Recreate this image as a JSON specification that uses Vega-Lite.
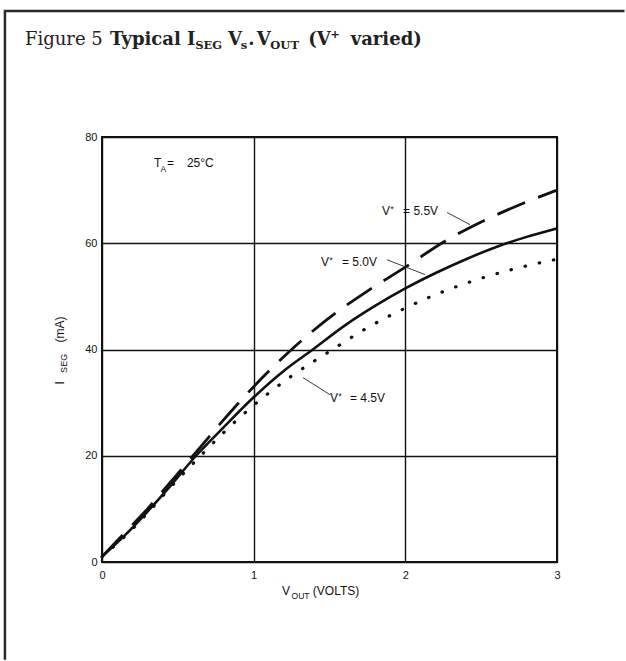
{
  "$schema": "https://vega.github.io/schema/vega-lite/v6.json",
  "width": 455,
  "height": 425,
  "autosize": {"type": "none"},
  "padding": {"left": 102, "top": 137, "right": 69, "bottom": 99},
  "background": "white",
  "config": {
    "view": {"stroke": "#111", "strokeWidth": 2},
    "axis": {"labelFont": "Liberation Sans", "labelFontSize": 11, "labelColor": "#111", "tickSize": 0, "domain": false, "grid": true, "gridColor": "#111", "gridWidth": 1.4, "gridOpacity": 1}
  },
  "datasets": {
    "curves": [
      {"vout": 0, "iseg": 1, "series": "5.5V"},
      {"vout": 0.15, "iseg": 5.5, "series": "5.5V"},
      {"vout": 0.3, "iseg": 10, "series": "5.5V"},
      {"vout": 0.45, "iseg": 15, "series": "5.5V"},
      {"vout": 0.6, "iseg": 20, "series": "5.5V"},
      {"vout": 0.8, "iseg": 26.7, "series": "5.5V"},
      {"vout": 1.0, "iseg": 33, "series": "5.5V"},
      {"vout": 1.25, "iseg": 40, "series": "5.5V"},
      {"vout": 1.5, "iseg": 46, "series": "5.5V"},
      {"vout": 1.75, "iseg": 51, "series": "5.5V"},
      {"vout": 2.0, "iseg": 55.5, "series": "5.5V"},
      {"vout": 2.25, "iseg": 60.2, "series": "5.5V"},
      {"vout": 2.5, "iseg": 64, "series": "5.5V"},
      {"vout": 2.75, "iseg": 67.2, "series": "5.5V"},
      {"vout": 3.0, "iseg": 70, "series": "5.5V"},
      {"vout": 0, "iseg": 1, "series": "5.0V"},
      {"vout": 0.15, "iseg": 5, "series": "5.0V"},
      {"vout": 0.3, "iseg": 9.5, "series": "5.0V"},
      {"vout": 0.45, "iseg": 14.3, "series": "5.0V"},
      {"vout": 0.62, "iseg": 20, "series": "5.0V"},
      {"vout": 0.8, "iseg": 25.3, "series": "5.0V"},
      {"vout": 1.0, "iseg": 31, "series": "5.0V"},
      {"vout": 1.2, "iseg": 36, "series": "5.0V"},
      {"vout": 1.39, "iseg": 40, "series": "5.0V"},
      {"vout": 1.6, "iseg": 44.5, "series": "5.0V"},
      {"vout": 1.8, "iseg": 48.2, "series": "5.0V"},
      {"vout": 2.0, "iseg": 51.5, "series": "5.0V"},
      {"vout": 2.2, "iseg": 54.4, "series": "5.0V"},
      {"vout": 2.4, "iseg": 57.0, "series": "5.0V"},
      {"vout": 2.6, "iseg": 59.3, "series": "5.0V"},
      {"vout": 2.8, "iseg": 61.2, "series": "5.0V"},
      {"vout": 3.0, "iseg": 62.8, "series": "5.0V"},
      {"vout": 0, "iseg": 1, "series": "4.5V"},
      {"vout": 0.15, "iseg": 4.8, "series": "4.5V"},
      {"vout": 0.3, "iseg": 9.2, "series": "4.5V"},
      {"vout": 0.45, "iseg": 14, "series": "4.5V"},
      {"vout": 0.65, "iseg": 20, "series": "4.5V"},
      {"vout": 0.8, "iseg": 24.3, "series": "4.5V"},
      {"vout": 1.0, "iseg": 29.5, "series": "4.5V"},
      {"vout": 1.25, "iseg": 35, "series": "4.5V"},
      {"vout": 1.52, "iseg": 40, "series": "4.5V"},
      {"vout": 1.75, "iseg": 44.1, "series": "4.5V"},
      {"vout": 2.0, "iseg": 47.8, "series": "4.5V"},
      {"vout": 2.25, "iseg": 50.9, "series": "4.5V"},
      {"vout": 2.5, "iseg": 53.4, "series": "4.5V"},
      {"vout": 2.75, "iseg": 55.4, "series": "4.5V"},
      {"vout": 3.0, "iseg": 57, "series": "4.5V"}
    ],
    "leaders": [
      {"x": 2.275, "y": 65.8, "id": "5.5V"},
      {"x": 2.426, "y": 63.5, "id": "5.5V"},
      {"x": 1.879, "y": 56.9, "id": "5.0V"},
      {"x": 2.13, "y": 54.1, "id": "5.0V"},
      {"x": 1.325, "y": 34.7, "id": "4.5V"},
      {"x": 1.503, "y": 31.5, "id": "4.5V"}
    ],
    "frame": [
      {"x": -0.64, "y": -18.4, "order": 1},
      {"x": -0.64, "y": 103.7, "order": 2},
      {"x": 3.445, "y": 103.7, "order": 3}
    ]
  },
  "layer": [
    {
      "data": {"name": "curves"},
      "transform": [{"filter": "datum.series === '5.0V'"}],
      "mark": {"type": "line", "stroke": "#111", "strokeWidth": 2.6, "interpolate": "monotone"},
      "encoding": {
        "x": {"field": "vout", "type": "quantitative", "scale": {"domain": [0, 3], "nice": false}, "axis": {"title": null, "values": [0, 1, 2, 3], "format": "d", "labelPadding": 7, "labelFlush": false}},
        "y": {"field": "iseg", "type": "quantitative", "scale": {"domain": [0, 80], "nice": false}, "axis": {"title": null, "values": [0, 20, 40, 60, 80], "format": "d", "labelPadding": 5}}
      }
    },
    {
      "data": {"name": "curves"},
      "transform": [{"filter": "datum.series === '5.5V'"}],
      "mark": {"type": "line", "stroke": "#111", "strokeWidth": 2.8, "strokeDash": [30, 14], "interpolate": "monotone"},
      "encoding": {
        "x": {"field": "vout", "type": "quantitative"},
        "y": {"field": "iseg", "type": "quantitative"}
      }
    },
    {
      "data": {"name": "curves"},
      "transform": [{"filter": "datum.series === '4.5V'"}],
      "mark": {"type": "line", "stroke": "#111", "strokeWidth": 3.2, "strokeDash": [0.5, 14], "strokeCap": "round", "interpolate": "monotone"},
      "encoding": {
        "x": {"field": "vout", "type": "quantitative"},
        "y": {"field": "iseg", "type": "quantitative"}
      }
    },
    {
      "data": {"name": "frame"},
      "mark": {"type": "line", "stroke": "#2a2a2a", "strokeWidth": 2.5},
      "encoding": {
        "x": {"field": "x", "type": "quantitative"},
        "y": {"field": "y", "type": "quantitative"},
        "order": {"field": "order"}
      }
    },
    {
      "data": {"name": "leaders"},
      "mark": {"type": "line", "stroke": "#222", "strokeWidth": 0.9},
      "encoding": {
        "x": {"field": "x", "type": "quantitative"},
        "y": {"field": "y", "type": "quantitative"},
        "detail": {"field": "id"}
      }
    },
    {
      "data": {"values": [
        {"t": "V⁺", "x": 1.846, "y": 65.4},
        {"t": "= 5.5V", "x": 1.985, "y": 65.4},
        {"t": "V⁺", "x": 1.444, "y": 55.8},
        {"t": "= 5.0V", "x": 1.582, "y": 55.8},
        {"t": "V⁺", "x": 1.503, "y": 30.2},
        {"t": "= 4.5V", "x": 1.635, "y": 30.2},
        {"t": "T", "x": 0.343, "y": 74.3},
        {"t": "=", "x": 0.429, "y": 74.3},
        {"t": "25°C", "x": 0.56, "y": 74.3},
        {"t": "V", "x": 1.187, "y": -6.3},
        {"t": "(VOLTS)", "x": 1.39, "y": -6.3}
      ]},
      "mark": {"type": "text", "font": "Liberation Sans", "fontSize": 12, "align": "left", "baseline": "alphabetic", "color": "#111"},
      "encoding": {
        "x": {"field": "x", "type": "quantitative"},
        "y": {"field": "y", "type": "quantitative"},
        "text": {"field": "t"}
      }
    },
    {
      "data": {"values": [
        {"t": "A", "x": 0.385, "y": 73.4},
        {"t": "OUT", "x": 1.25, "y": -6.9}
      ]},
      "mark": {"type": "text", "font": "Liberation Sans", "fontSize": 8.5, "align": "left", "baseline": "alphabetic", "color": "#111"},
      "encoding": {
        "x": {"field": "x", "type": "quantitative"},
        "y": {"field": "y", "type": "quantitative"},
        "text": {"field": "t"}
      }
    },
    {
      "data": {"values": [
        {"t": "I", "x": -0.25, "y": 33.4},
        {"t": "(mA)", "x": -0.25, "y": 41.3}
      ]},
      "mark": {"type": "text", "font": "Liberation Sans", "fontSize": 12, "align": "left", "baseline": "alphabetic", "angle": 270, "color": "#111"},
      "encoding": {
        "x": {"field": "x", "type": "quantitative"},
        "y": {"field": "y", "type": "quantitative"},
        "text": {"field": "t"}
      }
    },
    {
      "data": {"values": [
        {"t": "SEG", "x": -0.231, "y": 35.6}
      ]},
      "mark": {"type": "text", "font": "Liberation Sans", "fontSize": 9, "align": "left", "baseline": "alphabetic", "angle": 270, "color": "#111"},
      "encoding": {
        "x": {"field": "x", "type": "quantitative"},
        "y": {"field": "y", "type": "quantitative"},
        "text": {"field": "t"}
      }
    },
    {
      "data": {"values": [
        {"t": "Figure 5", "x": -0.508, "y": 97.4}
      ]},
      "mark": {"type": "text", "font": "DejaVu Serif", "fontSize": 18, "align": "left", "baseline": "alphabetic", "color": "#222"},
      "encoding": {
        "x": {"field": "x", "type": "quantitative"},
        "y": {"field": "y", "type": "quantitative"},
        "text": {"field": "t"}
      }
    },
    {
      "data": {"values": [
        {"t": "Typical I", "x": 0.053, "y": 97.4},
        {"t": "V", "x": 0.83, "y": 97.4},
        {"t": ".", "x": 0.965, "y": 97.4},
        {"t": "V", "x": 1.02, "y": 97.4},
        {"t": "(V", "x": 1.36, "y": 97.4},
        {"t": "varied)", "x": 1.64, "y": 97.4}
      ]},
      "mark": {"type": "text", "font": "DejaVu Serif", "fontSize": 18, "fontWeight": "bold", "align": "left", "baseline": "alphabetic", "color": "#222"},
      "encoding": {
        "x": {"field": "x", "type": "quantitative"},
        "y": {"field": "y", "type": "quantitative"},
        "text": {"field": "t"}
      }
    },
    {
      "data": {"values": [
        {"t": "SEG", "x": 0.615, "y": 96.5},
        {"t": "s", "x": 0.915, "y": 96.5},
        {"t": "OUT", "x": 1.11, "y": 96.5},
        {"t": "+", "x": 1.505, "y": 98.7}
      ]},
      "mark": {"type": "text", "font": "DejaVu Serif", "fontSize": 11.5, "fontWeight": "bold", "align": "left", "baseline": "alphabetic", "color": "#222"},
      "encoding": {
        "x": {"field": "x", "type": "quantitative"},
        "y": {"field": "y", "type": "quantitative"},
        "text": {"field": "t"}
      }
    }
  ]
}
